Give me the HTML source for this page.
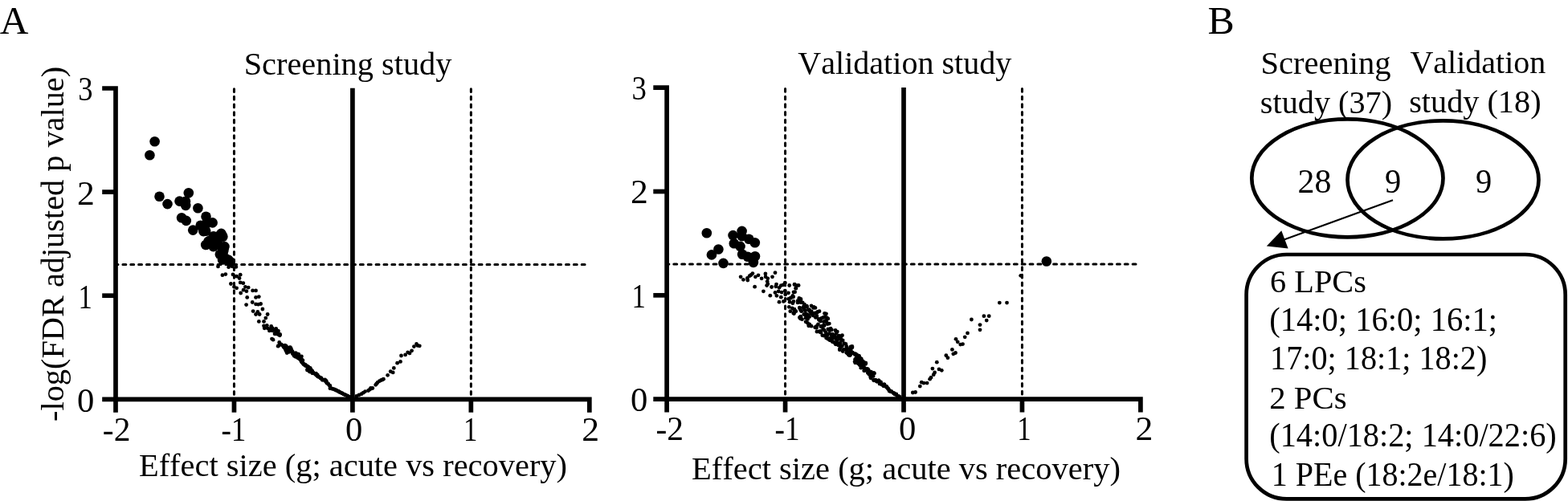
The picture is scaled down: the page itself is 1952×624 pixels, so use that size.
<!DOCTYPE html>
<html lang="en">
<head>
<meta charset="utf-8">
<title>Figure: Screening and validation study volcano plots</title>
<style>
html,body{margin:0;padding:0;background:#fff;}
body{width:1952px;height:624px;overflow:hidden;}
svg{display:block;}
text{font-family:"Liberation Serif", "Times New Roman", Times, serif;font-size:40.4px;fill:#000;font-kerning:none;font-variant-ligatures:none;}
.ax{stroke:#000;stroke-width:5.7;fill:none;stroke-linejoin:miter;}
.dash{stroke:#000;stroke-width:3;stroke-dasharray:3.9 5.95;stroke-linecap:round;}
.vd{stroke-dasharray:3.7 5.96;}
.el{fill:none;stroke:#000;stroke-width:4.7;}
</style>
</head>
<body>
<svg width="1952" height="624" viewBox="0 0 1952 624">
<rect width="1952" height="624" fill="#fff"/>

<g id="p1">
<line x1="291.45" y1="110.70" x2="291.45" y2="497.30" class="dash vd"/>
<line x1="586.35" y1="110.70" x2="586.35" y2="497.30" class="dash vd"/>
<line x1="728.10" y1="329.52" x2="144.00" y2="329.52" class="dash"/>
<g class="sm"><circle cx="271.5" cy="331.9" r="2.4"/><circle cx="284.6" cy="332.7" r="2.4"/><circle cx="289.2" cy="331.9" r="2.4"/><circle cx="293.8" cy="332.4" r="2.4"/><circle cx="276.9" cy="342.7" r="2.4"/><circle cx="280.8" cy="341.6" r="2.4"/><circle cx="290.0" cy="341.9" r="2.4"/><circle cx="294.6" cy="344.2" r="2.4"/><circle cx="299.2" cy="342.2" r="2.4"/><circle cx="298.0" cy="346.5" r="2.4"/><circle cx="299.2" cy="351.9" r="2.4"/><circle cx="302.8" cy="352.7" r="2.4"/><circle cx="287.4" cy="353.5" r="2.4"/><circle cx="291.5" cy="357.3" r="2.4"/><circle cx="294.6" cy="358.8" r="2.4"/><circle cx="305.4" cy="357.3" r="2.4"/><circle cx="309.2" cy="358.1" r="2.4"/><circle cx="303.1" cy="361.2" r="2.4"/><circle cx="306.9" cy="362.7" r="2.4"/><circle cx="299.7" cy="365.0" r="2.4"/><circle cx="314.6" cy="361.9" r="2.4"/><circle cx="318.5" cy="361.9" r="2.4"/><circle cx="307.7" cy="370.4" r="2.4"/><circle cx="318.5" cy="370.4" r="2.4"/><circle cx="322.3" cy="369.6" r="2.4"/><circle cx="314.2" cy="376.5" r="2.4"/><circle cx="318.5" cy="378.8" r="2.4"/><circle cx="321.5" cy="379.2" r="2.4"/><circle cx="324.6" cy="378.5" r="2.4"/><circle cx="306.6" cy="379.6" r="2.4"/><circle cx="326.9" cy="385.0" r="2.4"/><circle cx="315.1" cy="387.6" r="2.4"/><circle cx="320.8" cy="388.4" r="2.4"/><circle cx="318.5" cy="391.5" r="2.4"/><circle cx="323.1" cy="391.5" r="2.4"/><circle cx="333.1" cy="391.5" r="2.4"/><circle cx="330.8" cy="396.1" r="2.4"/><circle cx="328.5" cy="400.4" r="2.4"/><circle cx="322.3" cy="400.4" r="2.4"/><circle cx="328.5" cy="405.8" r="2.4"/><circle cx="332.3" cy="405.3" r="2.4"/><circle cx="329.2" cy="408.8" r="2.4"/><circle cx="337.7" cy="406.5" r="2.4"/><circle cx="335.4" cy="411.9" r="2.4"/><circle cx="340.0" cy="410.4" r="2.4"/><circle cx="343.1" cy="411.2" r="2.4"/><circle cx="346.2" cy="412.7" r="2.4"/><circle cx="343.8" cy="415.8" r="2.4"/><circle cx="348.5" cy="417.0" r="2.4"/><circle cx="333.1" cy="408.8" r="2.4"/><circle cx="339.2" cy="411.9" r="2.4"/><circle cx="345.4" cy="413.5" r="2.4"/><circle cx="348.5" cy="416.5" r="2.4"/><circle cx="340.0" cy="423.2" r="2.4"/><circle cx="347.7" cy="426.5" r="2.4"/><circle cx="346.2" cy="431.2" r="2.4"/><circle cx="353.1" cy="431.9" r="2.4"/><circle cx="359.2" cy="433.5" r="2.4"/><circle cx="357.7" cy="437.3" r="2.4"/><circle cx="362.3" cy="434.2" r="2.4"/><circle cx="365.4" cy="440.4" r="2.4"/><circle cx="371.5" cy="441.9" r="2.4"/><circle cx="372.3" cy="446.5" r="2.4"/><circle cx="376.9" cy="448.8" r="2.4"/><circle cx="377.7" cy="453.5" r="2.4"/><circle cx="382.3" cy="455.8" r="2.4"/><circle cx="386.2" cy="458.8" r="2.4"/><circle cx="385.4" cy="462.7" r="2.4"/><circle cx="390.0" cy="464.2" r="2.4"/><circle cx="394.6" cy="467.3" r="2.4"/><circle cx="399.2" cy="471.2" r="2.4"/><circle cx="403.8" cy="473.5" r="2.4"/><circle cx="406.9" cy="476.5" r="2.4"/><circle cx="410.8" cy="480.4" r="2.4"/><circle cx="411.5" cy="483.5" r="2.4"/><circle cx="416.2" cy="485.0" r="2.4"/><circle cx="420.8" cy="487.3" r="2.4"/><circle cx="425.4" cy="489.6" r="2.4"/><circle cx="430.0" cy="491.9" r="2.4"/><circle cx="434.6" cy="494.2" r="2.4"/><circle cx="437.7" cy="495.8" r="2.4"/><circle cx="336.2" cy="409.6" r="2.4"/><circle cx="343.1" cy="415.0" r="2.4"/><circle cx="350.0" cy="428.8" r="2.4"/><circle cx="355.4" cy="435.0" r="2.4"/><circle cx="360.8" cy="438.1" r="2.4"/><circle cx="363.1" cy="436.5" r="2.4"/><circle cx="368.5" cy="441.2" r="2.4"/><circle cx="369.2" cy="444.2" r="2.4"/><circle cx="374.6" cy="445.8" r="2.4"/><circle cx="376.2" cy="451.2" r="2.4"/><circle cx="380.0" cy="454.2" r="2.4"/><circle cx="383.8" cy="457.3" r="2.4"/><circle cx="387.7" cy="461.2" r="2.4"/><circle cx="392.3" cy="465.8" r="2.4"/><circle cx="396.9" cy="469.3" r="2.4"/><circle cx="401.5" cy="472.7" r="2.4"/><circle cx="405.4" cy="475.0" r="2.4"/><circle cx="408.8" cy="478.5" r="2.4"/><circle cx="413.8" cy="484.2" r="2.4"/><circle cx="418.5" cy="486.2" r="2.4"/><circle cx="423.1" cy="488.4" r="2.4"/><circle cx="427.7" cy="490.8" r="2.4"/><circle cx="432.3" cy="493.0" r="2.4"/><circle cx="356.2" cy="431.2" r="2.4"/><circle cx="360.0" cy="435.8" r="2.4"/><circle cx="366.9" cy="443.5" r="2.4"/><circle cx="373.8" cy="448.1" r="2.4"/><circle cx="383.1" cy="460.4" r="2.4"/><circle cx="388.5" cy="462.2" r="2.4"/><circle cx="443.8" cy="493.5" r="2.4"/><circle cx="446.9" cy="491.9" r="2.4"/><circle cx="450.0" cy="490.7" r="2.4"/><circle cx="454.6" cy="487.6" r="2.4"/><circle cx="458.5" cy="486.5" r="2.4"/><circle cx="461.5" cy="483.5" r="2.4"/><circle cx="463.8" cy="483.5" r="2.4"/><circle cx="467.7" cy="479.3" r="2.4"/><circle cx="470.0" cy="476.5" r="2.4"/><circle cx="472.3" cy="474.7" r="2.4"/><circle cx="474.6" cy="473.5" r="2.4"/><circle cx="477.4" cy="472.2" r="2.4"/><circle cx="482.6" cy="467.3" r="2.4"/><circle cx="486.2" cy="462.7" r="2.4"/><circle cx="489.2" cy="463.9" r="2.4"/><circle cx="490.3" cy="458.4" r="2.4"/><circle cx="494.6" cy="452.2" r="2.4"/><circle cx="498.5" cy="450.4" r="2.4"/><circle cx="499.5" cy="443.0" r="2.4"/><circle cx="504.6" cy="441.9" r="2.4"/><circle cx="507.7" cy="438.8" r="2.4"/><circle cx="510.0" cy="439.9" r="2.4"/><circle cx="512.6" cy="436.8" r="2.4"/><circle cx="515.4" cy="431.6" r="2.4"/><circle cx="518.5" cy="428.5" r="2.4"/><circle cx="520.0" cy="430.4" r="2.4"/><circle cx="522.3" cy="430.8" r="2.4"/><circle cx="452.3" cy="489.2" r="2.4"/><circle cx="460.5" cy="485.0" r="2.4"/><circle cx="468.8" cy="477.8" r="2.4"/><circle cx="476.2" cy="472.8" r="2.4"/><circle cx="339.3" cy="409.0" r="2.4"/><circle cx="343.7" cy="409.5" r="2.4"/><circle cx="346.3" cy="412.2" r="2.4"/><circle cx="342.0" cy="415.8" r="2.4"/><circle cx="346.6" cy="416.7" r="2.4"/><circle cx="343.7" cy="411.9" r="2.4"/><circle cx="348.2" cy="417.8" r="2.4"/><circle cx="338.5" cy="422.1" r="2.4"/><circle cx="348.2" cy="428.3" r="2.4"/><circle cx="346.5" cy="430.8" r="2.4"/><circle cx="354.9" cy="430.2" r="2.4"/><circle cx="360.5" cy="432.8" r="2.4"/><circle cx="356.4" cy="435.9" r="2.4"/><circle cx="361.6" cy="435.3" r="2.4"/><circle cx="364.4" cy="440.7" r="2.4"/><circle cx="371.9" cy="441.5" r="2.4"/><circle cx="372.4" cy="445.2" r="2.4"/><circle cx="375.7" cy="448.0" r="2.4"/><circle cx="378.2" cy="453.3" r="2.4"/><circle cx="381.8" cy="456.0" r="2.4"/><circle cx="386.1" cy="458.3" r="2.4"/><circle cx="386.1" cy="463.2" r="2.4"/><circle cx="389.4" cy="464.4" r="2.4"/><circle cx="394.6" cy="468.0" r="2.4"/><circle cx="399.6" cy="470.8" r="2.4"/><circle cx="404.6" cy="472.9" r="2.4"/><circle cx="406.8" cy="476.9" r="2.4"/><circle cx="410.4" cy="480.4" r="2.4"/><circle cx="410.9" cy="483.7" r="2.4"/><circle cx="416.5" cy="485.1" r="2.4"/><circle cx="421.2" cy="487.1" r="2.4"/><circle cx="425.6" cy="489.7" r="2.4"/><circle cx="430.1" cy="491.9" r="2.4"/><circle cx="434.9" cy="494.6" r="2.4"/><circle cx="343.0" cy="415.7" r="2.4"/><circle cx="348.3" cy="429.6" r="2.4"/><circle cx="355.9" cy="436.8" r="2.4"/><circle cx="361.9" cy="437.4" r="2.4"/><circle cx="362.7" cy="437.1" r="2.4"/><circle cx="367.0" cy="441.1" r="2.4"/><circle cx="368.2" cy="443.0" r="2.4"/><circle cx="373.3" cy="446.6" r="2.4"/><circle cx="375.2" cy="450.5" r="2.4"/><circle cx="379.7" cy="455.2" r="2.4"/><circle cx="382.8" cy="457.2" r="2.4"/><circle cx="387.8" cy="462.1" r="2.4"/><circle cx="393.0" cy="466.6" r="2.4"/><circle cx="396.5" cy="469.1" r="2.4"/><circle cx="401.3" cy="473.3" r="2.4"/><circle cx="406.1" cy="474.5" r="2.4"/><circle cx="408.4" cy="478.1" r="2.4"/><circle cx="413.5" cy="484.2" r="2.4"/><circle cx="418.6" cy="486.0" r="2.4"/><circle cx="422.6" cy="488.3" r="2.4"/><circle cx="427.6" cy="490.9" r="2.4"/><circle cx="432.8" cy="493.2" r="2.4"/><circle cx="356.3" cy="431.6" r="2.4"/><circle cx="360.6" cy="434.2" r="2.4"/><circle cx="368.2" cy="444.4" r="2.4"/><circle cx="374.9" cy="449.0" r="2.4"/><circle cx="382.8" cy="460.1" r="2.4"/><circle cx="387.6" cy="462.5" r="2.4"/><circle cx="354.0" cy="433.3" r="2.4"/><circle cx="359.3" cy="433.6" r="2.4"/><circle cx="357.2" cy="439.6" r="2.4"/><circle cx="361.4" cy="432.6" r="2.4"/><circle cx="364.4" cy="439.4" r="2.4"/><circle cx="370.8" cy="441.0" r="2.4"/><circle cx="370.8" cy="445.8" r="2.4"/><circle cx="376.2" cy="449.0" r="2.4"/><circle cx="376.6" cy="452.0" r="2.4"/><circle cx="381.3" cy="455.9" r="2.4"/><circle cx="385.9" cy="459.5" r="2.4"/><circle cx="386.3" cy="462.4" r="2.4"/><circle cx="388.9" cy="464.8" r="2.4"/><circle cx="395.3" cy="467.0" r="2.4"/><circle cx="399.6" cy="470.7" r="2.4"/><circle cx="352.1" cy="430.5" r="2.4"/><circle cx="356.8" cy="437.2" r="2.4"/><circle cx="359.6" cy="438.3" r="2.4"/><circle cx="364.1" cy="437.8" r="2.4"/><circle cx="368.1" cy="439.7" r="2.4"/><circle cx="369.7" cy="442.6" r="2.4"/><circle cx="375.4" cy="444.0" r="2.4"/><circle cx="376.0" cy="451.1" r="2.4"/><circle cx="378.7" cy="454.1" r="2.4"/><circle cx="383.8" cy="456.9" r="2.4"/><circle cx="388.9" cy="462.3" r="2.4"/><circle cx="393.4" cy="465.1" r="2.4"/><circle cx="395.7" cy="469.0" r="2.4"/><circle cx="354.4" cy="432.2" r="2.4"/><circle cx="358.9" cy="434.1" r="2.4"/><circle cx="366.0" cy="443.1" r="2.4"/><circle cx="374.7" cy="448.0" r="2.4"/><circle cx="382.5" cy="461.0" r="2.4"/><circle cx="387.2" cy="461.4" r="2.4"/></g>
<g class="bg"><circle cx="192.6" cy="176.2" r="6.3"/><circle cx="186.4" cy="193.3" r="6.3"/><circle cx="198.5" cy="244.8" r="6.3"/><circle cx="208.5" cy="254.1" r="6.3"/><circle cx="234.8" cy="240.3" r="6.3"/><circle cx="223.5" cy="250.6" r="6.3"/><circle cx="231" cy="250.8" r="6.3"/><circle cx="231.2" cy="255.9" r="6.3"/><circle cx="246.4" cy="259.2" r="6.3"/><circle cx="256.5" cy="269.7" r="6.3"/><circle cx="226.1" cy="271.3" r="6.3"/><circle cx="231.8" cy="274.9" r="6.3"/><circle cx="264.6" cy="277.4" r="6.3"/><circle cx="249.7" cy="280.7" r="6.3"/><circle cx="256.7" cy="278.5" r="6.3"/><circle cx="240.2" cy="286.6" r="6.3"/><circle cx="253.3" cy="288.1" r="6.3"/><circle cx="275.4" cy="290.9" r="6.3"/><circle cx="267.7" cy="295.8" r="6.3"/><circle cx="277.4" cy="294.8" r="6.3"/><circle cx="256.2" cy="305" r="6.3"/><circle cx="265.6" cy="307.1" r="6.3"/><circle cx="271.8" cy="305" r="6.3"/><circle cx="279.5" cy="307.1" r="6.3"/><circle cx="278" cy="313.2" r="6.3"/><circle cx="277" cy="323.5" r="6.3"/><circle cx="284.1" cy="323.5" r="6.3"/><circle cx="286.5" cy="326" r="6.3"/><circle cx="259.4" cy="300.6" r="6.3"/><circle cx="265.8" cy="294.2" r="6.3"/><circle cx="270.6" cy="303.8" r="6.3"/><circle cx="273.8" cy="316.7" r="6.3"/><circle cx="278.6" cy="310.3" r="6.3"/><circle cx="280.2" cy="321.5" r="6.3"/><circle cx="256.2" cy="287.8" r="6.3"/><circle cx="262.6" cy="299" r="6.3"/><circle cx="272.2" cy="294.2" r="6.3"/></g>
<line x1="438.90" y1="109.80" x2="438.90" y2="497.30" class="ax"/>
<path d="M144.00 513.70 V110.00 H127.20" class="ax"/>
<path d="M127.20 497.30 H733.80 V513.70" class="ax"/>
<line x1="127.20" y1="368.20" x2="144.00" y2="368.20" class="ax"/>
<line x1="127.20" y1="239.10" x2="144.00" y2="239.10" class="ax"/>
<line x1="291.45" y1="497.30" x2="291.45" y2="513.70" class="ax"/>
<line x1="438.90" y1="497.30" x2="438.90" y2="513.70" class="ax"/>
<line x1="586.35" y1="497.30" x2="586.35" y2="513.70" class="ax"/>
</g>
<g id="p2">
<line x1="977.55" y1="110.50" x2="977.55" y2="497.10" class="dash vd"/>
<line x1="1272.45" y1="110.50" x2="1272.45" y2="497.10" class="dash vd"/>
<line x1="1414.00" y1="329.01" x2="830.10" y2="329.01" class="dash"/>
<g class="sm"><circle cx="922.1" cy="344.8" r="2.4"/><circle cx="925.4" cy="348.3" r="2.4"/><circle cx="930.4" cy="346.4" r="2.4"/><circle cx="930.8" cy="349.1" r="2.4"/><circle cx="933.1" cy="343.7" r="2.4"/><circle cx="935.0" cy="342.5" r="2.4"/><circle cx="936.9" cy="340.6" r="2.4"/><circle cx="940.4" cy="344.8" r="2.4"/><circle cx="944.0" cy="342.8" r="2.4"/><circle cx="948.1" cy="346.8" r="2.4"/><circle cx="952.9" cy="341.0" r="2.4"/><circle cx="953.1" cy="344.8" r="2.4"/><circle cx="955.8" cy="346.8" r="2.4"/><circle cx="955.2" cy="350.6" r="2.4"/><circle cx="955.8" cy="353.7" r="2.4"/><circle cx="954.6" cy="355.6" r="2.4"/><circle cx="961.5" cy="344.8" r="2.4"/><circle cx="965.0" cy="339.7" r="2.4"/><circle cx="939.6" cy="357.2" r="2.4"/><circle cx="950.4" cy="362.8" r="2.4"/><circle cx="960.6" cy="357.5" r="2.4"/><circle cx="966.5" cy="354.1" r="2.4"/><circle cx="965.8" cy="356.8" r="2.4"/><circle cx="972.3" cy="355.6" r="2.4"/><circle cx="975.0" cy="354.8" r="2.4"/><circle cx="977.3" cy="352.2" r="2.4"/><circle cx="970.0" cy="358.3" r="2.4"/><circle cx="982.7" cy="355.5" r="2.4"/><circle cx="989.2" cy="354.1" r="2.4"/><circle cx="991.9" cy="355.6" r="2.4"/><circle cx="990.8" cy="358.7" r="2.4"/><circle cx="989.6" cy="363.7" r="2.4"/><circle cx="965.0" cy="364.5" r="2.4"/><circle cx="969.2" cy="362.9" r="2.4"/><circle cx="973.1" cy="364.1" r="2.4"/><circle cx="977.3" cy="362.2" r="2.4"/><circle cx="981.5" cy="364.8" r="2.4"/><circle cx="977.7" cy="366.8" r="2.4"/><circle cx="966.9" cy="368.3" r="2.4"/><circle cx="958.8" cy="368.2" r="2.4"/><circle cx="972.3" cy="370.2" r="2.4"/><circle cx="986.9" cy="368.3" r="2.4"/><circle cx="983.8" cy="371.4" r="2.4"/><circle cx="996.9" cy="372.5" r="2.4"/><circle cx="970.0" cy="376.2" r="2.4"/><circle cx="975.4" cy="375.4" r="2.4"/><circle cx="981.5" cy="372.3" r="2.4"/><circle cx="983.1" cy="376.2" r="2.4"/><circle cx="986.9" cy="369.2" r="2.4"/><circle cx="986.9" cy="377.7" r="2.4"/><circle cx="982.3" cy="382.3" r="2.4"/><circle cx="986.2" cy="383.8" r="2.4"/><circle cx="983.8" cy="387.7" r="2.4"/><circle cx="987.7" cy="390.0" r="2.4"/><circle cx="990.8" cy="387.7" r="2.4"/><circle cx="993.1" cy="376.9" r="2.4"/><circle cx="996.9" cy="373.8" r="2.4"/><circle cx="999.2" cy="376.9" r="2.4"/><circle cx="1001.5" cy="379.2" r="2.4"/><circle cx="995.4" cy="383.1" r="2.4"/><circle cx="1000.0" cy="382.3" r="2.4"/><circle cx="1004.6" cy="382.3" r="2.4"/><circle cx="1010.0" cy="380.8" r="2.4"/><circle cx="1013.1" cy="382.3" r="2.4"/><circle cx="997.7" cy="387.7" r="2.4"/><circle cx="1002.3" cy="386.9" r="2.4"/><circle cx="1006.2" cy="386.2" r="2.4"/><circle cx="1008.5" cy="388.5" r="2.4"/><circle cx="1000.8" cy="391.5" r="2.4"/><circle cx="1006.2" cy="392.3" r="2.4"/><circle cx="1010.8" cy="390.8" r="2.4"/><circle cx="1014.6" cy="390.0" r="2.4"/><circle cx="1020.0" cy="387.7" r="2.4"/><circle cx="995.4" cy="395.4" r="2.4"/><circle cx="998.5" cy="397.7" r="2.4"/><circle cx="1003.1" cy="396.2" r="2.4"/><circle cx="1007.7" cy="394.6" r="2.4"/><circle cx="1012.3" cy="393.1" r="2.4"/><circle cx="1015.4" cy="395.4" r="2.4"/><circle cx="1019.2" cy="397.7" r="2.4"/><circle cx="1023.1" cy="396.2" r="2.4"/><circle cx="1026.9" cy="394.6" r="2.4"/><circle cx="1028.5" cy="390.8" r="2.4"/><circle cx="1030.8" cy="396.9" r="2.4"/><circle cx="1003.1" cy="400.8" r="2.4"/><circle cx="1007.7" cy="403.8" r="2.4"/><circle cx="1010.0" cy="406.2" r="2.4"/><circle cx="1014.6" cy="407.7" r="2.4"/><circle cx="1018.5" cy="403.8" r="2.4"/><circle cx="1021.5" cy="400.0" r="2.4"/><circle cx="1025.4" cy="400.8" r="2.4"/><circle cx="1029.2" cy="401.5" r="2.4"/><circle cx="1032.3" cy="403.1" r="2.4"/><circle cx="1023.1" cy="406.2" r="2.4"/><circle cx="1026.2" cy="405.4" r="2.4"/><circle cx="1016.9" cy="413.1" r="2.4"/><circle cx="1021.5" cy="412.3" r="2.4"/><circle cx="1026.2" cy="411.5" r="2.4"/><circle cx="1030.8" cy="410.0" r="2.4"/><circle cx="1035.4" cy="410.8" r="2.4"/><circle cx="1040.0" cy="411.5" r="2.4"/><circle cx="1042.3" cy="413.1" r="2.4"/><circle cx="1023.8" cy="417.7" r="2.4"/><circle cx="1028.5" cy="416.2" r="2.4"/><circle cx="1032.3" cy="415.4" r="2.4"/><circle cx="1036.2" cy="416.2" r="2.4"/><circle cx="1039.2" cy="417.7" r="2.4"/><circle cx="1043.8" cy="419.2" r="2.4"/><circle cx="1048.5" cy="417.7" r="2.4"/><circle cx="1030.8" cy="422.3" r="2.4"/><circle cx="1035.4" cy="420.8" r="2.4"/><circle cx="1040.0" cy="421.5" r="2.4"/><circle cx="1044.6" cy="422.3" r="2.4"/><circle cx="1049.2" cy="423.8" r="2.4"/><circle cx="1033.1" cy="423.8" r="2.4"/><circle cx="1037.7" cy="426.2" r="2.4"/><circle cx="1041.5" cy="425.4" r="2.4"/><circle cx="1046.2" cy="426.9" r="2.4"/><circle cx="1050.8" cy="427.7" r="2.4"/><circle cx="1040.0" cy="428.5" r="2.4"/><circle cx="1043.8" cy="430.0" r="2.4"/><circle cx="1048.5" cy="430.8" r="2.4"/><circle cx="1053.8" cy="431.5" r="2.4"/><circle cx="1060.8" cy="431.5" r="2.4"/><circle cx="1045.4" cy="434.6" r="2.4"/><circle cx="1050.0" cy="435.4" r="2.4"/><circle cx="1054.6" cy="434.6" r="2.4"/><circle cx="1058.5" cy="435.4" r="2.4"/><circle cx="1053.8" cy="439.2" r="2.4"/><circle cx="1057.7" cy="440.0" r="2.4"/><circle cx="1061.5" cy="439.2" r="2.4"/><circle cx="1065.4" cy="440.8" r="2.4"/><circle cx="1069.2" cy="443.1" r="2.4"/><circle cx="1056.9" cy="442.3" r="2.4"/><circle cx="1064.6" cy="447.7" r="2.4"/><circle cx="1067.7" cy="449.2" r="2.4"/><circle cx="1070.8" cy="446.2" r="2.4"/><circle cx="1073.1" cy="449.2" r="2.4"/><circle cx="1076.9" cy="452.3" r="2.4"/><circle cx="1067.7" cy="452.3" r="2.4"/><circle cx="1070.8" cy="453.8" r="2.4"/><circle cx="1060.9" cy="432.8" r="2.4"/><circle cx="1060.2" cy="438.8" r="2.4"/><circle cx="1064.2" cy="441.5" r="2.4"/><circle cx="1068.9" cy="443.6" r="2.4"/><circle cx="1064.2" cy="450.3" r="2.4"/><circle cx="1068.3" cy="448.9" r="2.4"/><circle cx="1072.3" cy="446.9" r="2.4"/><circle cx="1070.3" cy="454.3" r="2.4"/><circle cx="1073.6" cy="453.0" r="2.4"/><circle cx="1077.7" cy="452.3" r="2.4"/><circle cx="1072.3" cy="457.7" r="2.4"/><circle cx="1076.3" cy="458.4" r="2.4"/><circle cx="1080.4" cy="459.7" r="2.4"/><circle cx="1075.7" cy="461.7" r="2.4"/><circle cx="1080.4" cy="464.4" r="2.4"/><circle cx="1084.4" cy="463.1" r="2.4"/><circle cx="1087.8" cy="464.4" r="2.4"/><circle cx="1083.7" cy="469.8" r="2.4"/><circle cx="1087.1" cy="468.5" r="2.4"/><circle cx="1087.8" cy="473.8" r="2.4"/><circle cx="1091.8" cy="475.2" r="2.4"/><circle cx="1093.8" cy="473.8" r="2.4"/><circle cx="1096.5" cy="475.9" r="2.4"/><circle cx="1097.9" cy="479.2" r="2.4"/><circle cx="1101.2" cy="479.2" r="2.4"/><circle cx="1103.3" cy="481.9" r="2.4"/><circle cx="1105.9" cy="484.6" r="2.4"/><circle cx="1107.3" cy="486.6" r="2.4"/><circle cx="1110.0" cy="488.0" r="2.4"/><circle cx="1112.7" cy="490.0" r="2.4"/><circle cx="1115.4" cy="491.3" r="2.4"/><circle cx="1117.4" cy="493.4" r="2.4"/><circle cx="1119.4" cy="494.0" r="2.4"/><circle cx="1056.2" cy="441.5" r="2.4"/><circle cx="1054.8" cy="437.5" r="2.4"/><circle cx="1066.2" cy="445.6" r="2.4"/><circle cx="1071.0" cy="451.0" r="2.4"/><circle cx="1075.0" cy="455.7" r="2.4"/><circle cx="1078.4" cy="460.4" r="2.4"/><circle cx="1082.4" cy="466.4" r="2.4"/><circle cx="1085.8" cy="466.4" r="2.4"/><circle cx="1089.8" cy="473.2" r="2.4"/><circle cx="1095.2" cy="477.6" r="2.4"/><circle cx="1099.9" cy="480.8" r="2.4"/><circle cx="1104.6" cy="483.3" r="2.4"/><circle cx="1108.6" cy="487.3" r="2.4"/><circle cx="1114.0" cy="490.7" r="2.4"/><circle cx="1270.7" cy="343.3" r="2.4"/><circle cx="1244.3" cy="377.1" r="2.4"/><circle cx="1253.5" cy="377.1" r="2.4"/><circle cx="1209.4" cy="398.0" r="2.4"/><circle cx="1224.9" cy="393.7" r="2.4"/><circle cx="1231.2" cy="393.7" r="2.4"/><circle cx="1228.2" cy="399.1" r="2.4"/><circle cx="1220.0" cy="404.6" r="2.4"/><circle cx="1220.0" cy="410.8" r="2.4"/><circle cx="1204.5" cy="414.9" r="2.4"/><circle cx="1201.2" cy="419.8" r="2.4"/><circle cx="1190.0" cy="422.3" r="2.4"/><circle cx="1192.2" cy="425.8" r="2.4"/><circle cx="1195.7" cy="429.1" r="2.4"/><circle cx="1198.5" cy="428.6" r="2.4"/><circle cx="1185.4" cy="435.4" r="2.4"/><circle cx="1189.5" cy="439.5" r="2.4"/><circle cx="1186.8" cy="440.8" r="2.4"/><circle cx="1177.8" cy="442.7" r="2.4"/><circle cx="1179.9" cy="445.7" r="2.4"/><circle cx="1166.3" cy="451.2" r="2.4"/><circle cx="1160.9" cy="459.1" r="2.4"/><circle cx="1169.0" cy="459.9" r="2.4"/><circle cx="1172.3" cy="461.3" r="2.4"/><circle cx="1163.6" cy="464.0" r="2.4"/><circle cx="1162.2" cy="466.7" r="2.4"/><circle cx="1159.0" cy="470.2" r="2.4"/><circle cx="1157.6" cy="472.2" r="2.4"/><circle cx="1147.2" cy="476.2" r="2.4"/><circle cx="1150.0" cy="477.1" r="2.4"/><circle cx="1154.1" cy="477.1" r="2.4"/><circle cx="1145.3" cy="481.1" r="2.4"/><circle cx="1136.3" cy="489.0" r="2.4"/><circle cx="1139.6" cy="488.5" r="2.4"/><circle cx="989.0" cy="354.4" r="2.4"/><circle cx="994.1" cy="355.4" r="2.4"/><circle cx="990.8" cy="359.2" r="2.4"/><circle cx="988.0" cy="363.8" r="2.4"/><circle cx="987.6" cy="369.8" r="2.4"/><circle cx="994.8" cy="371.5" r="2.4"/><circle cx="984.8" cy="370.8" r="2.4"/><circle cx="987.9" cy="375.3" r="2.4"/><circle cx="988.7" cy="386.2" r="2.4"/><circle cx="988.5" cy="390.6" r="2.4"/><circle cx="989.0" cy="385.2" r="2.4"/><circle cx="993.2" cy="374.6" r="2.4"/><circle cx="995.3" cy="372.5" r="2.4"/><circle cx="996.8" cy="376.7" r="2.4"/><circle cx="1001.2" cy="381.0" r="2.4"/><circle cx="995.5" cy="383.8" r="2.4"/><circle cx="1000.0" cy="383.1" r="2.4"/><circle cx="1004.4" cy="381.1" r="2.4"/><circle cx="1012.6" cy="383.4" r="2.4"/><circle cx="1014.9" cy="383.4" r="2.4"/><circle cx="996.7" cy="386.3" r="2.4"/><circle cx="1001.2" cy="384.7" r="2.4"/><circle cx="1007.6" cy="385.7" r="2.4"/><circle cx="1010.3" cy="387.9" r="2.4"/><circle cx="1003.2" cy="393.3" r="2.4"/><circle cx="1003.6" cy="390.8" r="2.4"/><circle cx="1012.9" cy="390.6" r="2.4"/><circle cx="1017.1" cy="389.5" r="2.4"/><circle cx="1017.8" cy="388.4" r="2.4"/><circle cx="996.8" cy="394.2" r="2.4"/><circle cx="996.4" cy="396.8" r="2.4"/><circle cx="1005.5" cy="397.5" r="2.4"/><circle cx="1005.7" cy="393.3" r="2.4"/><circle cx="1010.2" cy="390.8" r="2.4"/><circle cx="1016.9" cy="393.7" r="2.4"/><circle cx="1019.5" cy="397.4" r="2.4"/><circle cx="1021.5" cy="397.4" r="2.4"/><circle cx="1025.0" cy="395.3" r="2.4"/><circle cx="1026.5" cy="390.4" r="2.4"/><circle cx="1029.3" cy="395.7" r="2.4"/><circle cx="1005.5" cy="402.4" r="2.4"/><circle cx="1006.7" cy="405.8" r="2.4"/><circle cx="1008.5" cy="405.7" r="2.4"/><circle cx="1016.4" cy="408.4" r="2.4"/><circle cx="1016.4" cy="406.3" r="2.4"/><circle cx="1020.0" cy="398.7" r="2.4"/><circle cx="1026.8" cy="399.9" r="2.4"/><circle cx="1028.1" cy="399.3" r="2.4"/><circle cx="1030.2" cy="403.5" r="2.4"/><circle cx="1021.8" cy="406.7" r="2.4"/><circle cx="1025.5" cy="405.2" r="2.4"/><circle cx="1019.3" cy="413.0" r="2.4"/><circle cx="1021.9" cy="414.2" r="2.4"/><circle cx="1024.6" cy="409.7" r="2.4"/><circle cx="1032.9" cy="411.7" r="2.4"/><circle cx="1034.1" cy="409.2" r="2.4"/><circle cx="1041.2" cy="413.7" r="2.4"/><circle cx="1040.9" cy="415.3" r="2.4"/><circle cx="1025.8" cy="418.2" r="2.4"/><circle cx="1028.1" cy="414.1" r="2.4"/><circle cx="1029.9" cy="417.8" r="2.4"/><circle cx="1034.9" cy="417.2" r="2.4"/><circle cx="1038.0" cy="419.3" r="2.4"/><circle cx="1044.3" cy="418.2" r="2.4"/><circle cx="1047.1" cy="418.7" r="2.4"/><circle cx="1028.6" cy="420.9" r="2.4"/><circle cx="1035.7" cy="422.6" r="2.4"/><circle cx="1040.6" cy="420.4" r="2.4"/><circle cx="1046.5" cy="420.9" r="2.4"/><circle cx="1047.1" cy="422.8" r="2.4"/><circle cx="1032.8" cy="421.5" r="2.4"/><circle cx="1036.1" cy="425.5" r="2.4"/><circle cx="1041.8" cy="423.6" r="2.4"/><circle cx="1045.6" cy="428.7" r="2.4"/><circle cx="1052.9" cy="428.4" r="2.4"/><circle cx="1040.9" cy="428.9" r="2.4"/><circle cx="1042.1" cy="427.8" r="2.4"/><circle cx="1046.4" cy="432.6" r="2.4"/><circle cx="1054.6" cy="433.4" r="2.4"/><circle cx="1059.0" cy="432.0" r="2.4"/><circle cx="1045.3" cy="435.7" r="2.4"/><circle cx="1049.2" cy="437.6" r="2.4"/><circle cx="1052.9" cy="434.8" r="2.4"/><circle cx="1059.4" cy="436.9" r="2.4"/><circle cx="1054.8" cy="440.0" r="2.4"/><circle cx="1058.8" cy="441.6" r="2.4"/><circle cx="1061.0" cy="439.9" r="2.4"/><circle cx="1066.8" cy="442.1" r="2.4"/><circle cx="1068.9" cy="444.0" r="2.4"/><circle cx="1058.3" cy="442.6" r="2.4"/><circle cx="1065.0" cy="447.3" r="2.4"/><circle cx="1068.0" cy="449.6" r="2.4"/><circle cx="1069.5" cy="446.6" r="2.4"/><circle cx="1074.6" cy="450.3" r="2.4"/><circle cx="1077.5" cy="452.0" r="2.4"/><circle cx="1068.5" cy="452.6" r="2.4"/><circle cx="1070.6" cy="454.9" r="2.4"/><circle cx="1059.4" cy="433.7" r="2.4"/><circle cx="1058.4" cy="439.2" r="2.4"/><circle cx="1064.1" cy="440.6" r="2.4"/><circle cx="1069.5" cy="443.6" r="2.4"/><circle cx="1064.6" cy="451.8" r="2.4"/><circle cx="1067.5" cy="447.3" r="2.4"/><circle cx="1071.7" cy="447.4" r="2.4"/><circle cx="1069.4" cy="453.3" r="2.4"/><circle cx="1074.8" cy="453.5" r="2.4"/><circle cx="1077.5" cy="453.4" r="2.4"/><circle cx="1071.8" cy="458.2" r="2.4"/><circle cx="1075.5" cy="458.2" r="2.4"/><circle cx="1081.2" cy="460.8" r="2.4"/><circle cx="1076.8" cy="461.4" r="2.4"/><circle cx="1080.6" cy="463.9" r="2.4"/><circle cx="1083.5" cy="463.1" r="2.4"/><circle cx="1088.5" cy="465.1" r="2.4"/><circle cx="1084.2" cy="470.9" r="2.4"/><circle cx="1086.6" cy="467.8" r="2.4"/><circle cx="1087.7" cy="473.3" r="2.4"/><circle cx="1091.3" cy="475.0" r="2.4"/><circle cx="1094.0" cy="473.8" r="2.4"/><circle cx="1096.2" cy="476.5" r="2.4"/><circle cx="1098.7" cy="479.1" r="2.4"/><circle cx="1100.6" cy="478.6" r="2.4"/><circle cx="1103.8" cy="481.3" r="2.4"/><circle cx="1106.2" cy="484.7" r="2.4"/><circle cx="1107.1" cy="487.0" r="2.4"/><circle cx="1109.4" cy="487.5" r="2.4"/><circle cx="1112.6" cy="489.4" r="2.4"/><circle cx="1115.8" cy="491.0" r="2.4"/><circle cx="1116.9" cy="492.8" r="2.4"/><circle cx="1119.6" cy="493.9" r="2.4"/><circle cx="1056.7" cy="442.1" r="2.4"/><circle cx="1056.0" cy="439.4" r="2.4"/><circle cx="1066.8" cy="444.6" r="2.4"/><circle cx="1070.9" cy="450.0" r="2.4"/><circle cx="1073.6" cy="455.6" r="2.4"/><circle cx="1079.0" cy="459.5" r="2.4"/><circle cx="1081.8" cy="466.0" r="2.4"/><circle cx="1086.2" cy="466.4" r="2.4"/><circle cx="1090.0" cy="473.7" r="2.4"/><circle cx="1095.0" cy="478.1" r="2.4"/><circle cx="1100.5" cy="480.2" r="2.4"/><circle cx="1105.2" cy="483.6" r="2.4"/><circle cx="1108.1" cy="487.2" r="2.4"/><circle cx="1114.2" cy="491.2" r="2.4"/></g>
<g class="bg"><circle cx="879.8" cy="290.3" r="6.3"/><circle cx="894.4" cy="310.5" r="6.3"/><circle cx="885.9" cy="317.4" r="6.3"/><circle cx="900.5" cy="327.9" r="6.3"/><circle cx="923.6" cy="287.9" r="6.3"/><circle cx="912.5" cy="293.1" r="6.3"/><circle cx="923.6" cy="294.1" r="6.3"/><circle cx="932.3" cy="297.7" r="6.3"/><circle cx="939.8" cy="302.3" r="6.3"/><circle cx="913.8" cy="303.3" r="6.3"/><circle cx="921.5" cy="306.9" r="6.3"/><circle cx="924.1" cy="316.7" r="6.3"/><circle cx="930.8" cy="319.7" r="6.3"/><circle cx="940" cy="319.2" r="6.3"/><circle cx="937.9" cy="326.9" r="6.3"/><circle cx="1302.8" cy="325.5" r="6.3"/></g>
<line x1="1125.00" y1="108.90" x2="1125.00" y2="497.10" class="ax"/>
<path d="M830.10 513.50 V109.20 H813.30" class="ax"/>
<path d="M813.30 497.10 H1419.90 V513.50" class="ax"/>
<line x1="813.30" y1="367.80" x2="830.10" y2="367.80" class="ax"/>
<line x1="813.30" y1="238.50" x2="830.10" y2="238.50" class="ax"/>
<line x1="977.55" y1="497.10" x2="977.55" y2="513.50" class="ax"/>
<line x1="1125.00" y1="497.10" x2="1125.00" y2="513.50" class="ax"/>
<line x1="1272.45" y1="497.10" x2="1272.45" y2="513.50" class="ax"/>
</g>
<g id="venn">
<ellipse cx="1677.4" cy="221.9" rx="119.1" ry="73.45" class="el"/>
<ellipse cx="1796.5" cy="223.9" rx="119.0" ry="73.55" class="el"/>
<line x1="1734" y1="249.2" x2="1595" y2="299.8" stroke="#000" stroke-width="2.2"/>
<polygon points="1576.8,306.5 1595.3,287.3 1603.6,309.6"/>
<rect x="1551.6" y="317" width="397.1" height="304.4" rx="50" ry="50" class="el"/>
</g>
<g id="labels">
<text transform="translate(-0.30,42.30) scale(1.0014,0.9938)" style="font-size:49.4px">A</text>
<text transform="translate(1503.49,42.00) scale(1.0069,0.9922)" style="font-size:49.4px">B</text>
<text transform="translate(78.90,524.90) rotate(-90) scale(0.9976,1.0000)">-log(FDR adjusted p value)</text>
<text transform="translate(303.65,93.10) scale(0.9986,1.0000)">Screening study</text>
<text transform="translate(172.95,592.90) scale(1.0009,1.0000)">Effect size (g; acute vs recovery)</text>
<text transform="translate(993.30,92.00) scale(0.9921,1.0000)">Validation study</text>
<text transform="translate(861.05,596.80) scale(1.0025,1.0000)">Effect size (g; acute vs recovery)</text>
<text transform="translate(95.92,512.70) scale(1.0551,1.0350)">0</text>
<text transform="translate(97.46,383.60) scale(0.8600,1.0350)">1</text>
<text transform="translate(95.93,254.50) scale(1.0800,1.0350)">2</text>
<text transform="translate(97.28,125.40) scale(0.9091,1.0350)">3</text>
<text transform="translate(127.86,548.80) scale(1.0267,1.0350)">-2</text>
<text transform="translate(275.42,548.80) scale(0.9210,1.0350)">-1</text>
<text transform="translate(429.97,548.80) scale(1.0551,1.0350)">0</text>
<text transform="translate(576.91,548.80) scale(0.8600,1.0350)">1</text>
<text transform="translate(724.29,548.80) scale(1.0800,1.0350)">2</text>
<text transform="translate(785.02,511.85) scale(1.0551,1.0350)">0</text>
<text transform="translate(786.56,382.55) scale(0.8600,1.0350)">1</text>
<text transform="translate(785.04,253.25) scale(1.0800,1.0350)">2</text>
<text transform="translate(786.38,123.95) scale(0.9091,1.0350)">3</text>
<text transform="translate(816.41,548.10) scale(1.0267,1.0350)">-2</text>
<text transform="translate(964.52,548.10) scale(0.9210,1.0350)">-1</text>
<text transform="translate(1119.02,548.10) scale(1.0551,1.0350)">0</text>
<text transform="translate(1266.36,548.10) scale(0.8600,1.0350)">1</text>
<text transform="translate(1413.43,548.10) scale(1.0800,1.0350)">2</text>
<text transform="translate(1569.44,92.20) scale(1.0038,1.0000)">Screening</text>
<text transform="translate(1568.86,141.30) scale(0.9960,1.0000)">study (37)</text>
<text transform="translate(1755.40,91.20) scale(0.9906,1.0000)">Validation</text>
<text transform="translate(1754.16,139.60) scale(0.9966,1.0000)">study (18)</text>
<text transform="translate(1615.49,239.94) scale(1.0351,1.0481)">28</text>
<text transform="translate(1724.03,239.64) scale(1.0000,1.0407)">9</text>
<text transform="translate(1837.03,239.64) scale(1.0000,1.0407)">9</text>
<text transform="translate(1581.05,364.10) scale(0.9974,1.0000)">6 LPCs</text>
<text transform="translate(1580.24,411.70) scale(1.0038,1.0500)">(14:0; 16:0; 16:1;</text>
<text transform="translate(1581.12,459.80) scale(0.9949,1.0400)">17:0; 18:1; 18:2)</text>
<text transform="translate(1580.23,508.80) scale(1.0092,1.0000)">2 PCs</text>
<text transform="translate(1580.25,556.30) scale(0.9990,1.0500)">(14:0/18:2; 14:0/22:6)</text>
<text transform="translate(1582.73,604.60) scale(0.9905,1.0500)">1 PEe (18:2e/18:1)</text>
</g>
</svg>
</body>
</html>
